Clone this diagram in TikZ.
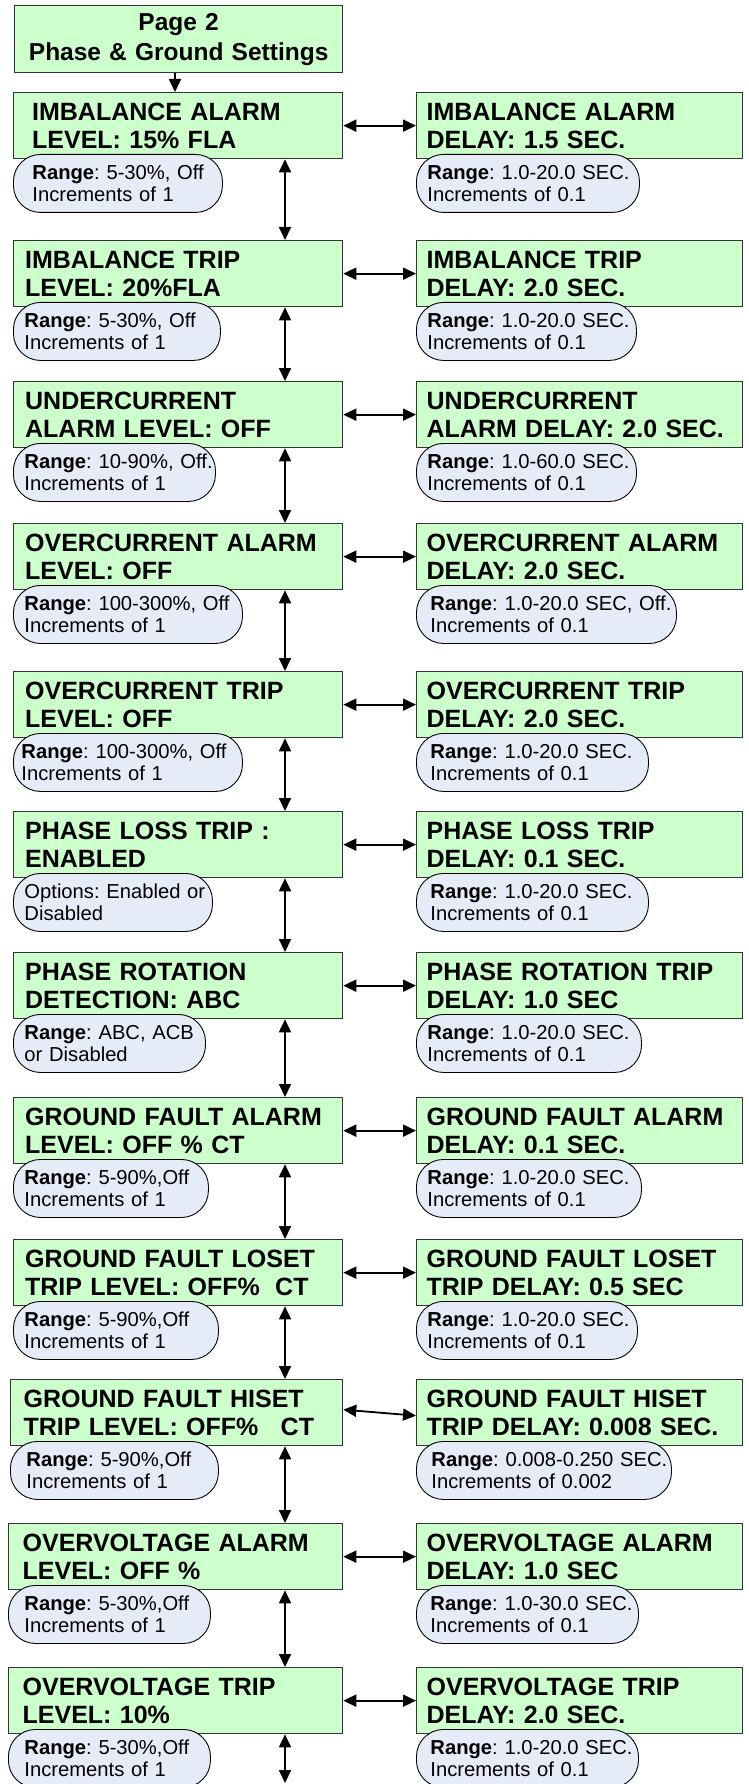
\documentclass[tikz,border=0pt]{standalone}
\usepackage{fontspec}
\setmainfont{Liberation Sans}
\usetikzlibrary{arrows.meta}
\definecolor{boxgreen}{HTML}{CCFFCC}
\definecolor{callblue}{HTML}{E6ECF7}
\definecolor{edgegray}{HTML}{333333}
\newcommand{\oneline}[1]{\mbox{#1}}
\frenchspacing
\begin{document}
\begin{tikzpicture}[x=1pt,y=-1pt,
  setbox/.style={draw=edgegray, line width=1.3pt, fill=boxgreen, rectangle,
    minimum height=66pt, inner ysep=0pt, align=left, anchor=north west,
    font=\fontsize{25}{28.5}\selectfont\bfseries},
  leftbox/.style={setbox, text width=306pt, inner xsep=#1},
  leftbox/.default=11.5pt,
  rightbox/.style={setbox, text width=306pt, inner xsep=10pt},
  titlebox/.style={setbox, text width=308pt, inner xsep=10pt, minimum height=67pt,
    align=center, font=\fontsize{24.5}{30}\selectfont\bfseries},
  callout/.style={draw=black, line width=0.9pt, fill=callblue, rounded corners=27pt,
    minimum height=58pt, inner xsep=0pt, inner ysep=0pt, align=left,
    anchor=north west, text width=#1, font=\fontsize{20.2}{22}\selectfont},
  dbl/.style={line width=1.8pt, {Triangle[length=13pt,width=12pt]}-{Triangle[length=13pt,width=12pt]}},
  sgl/.style={line width=1.8pt, -{Triangle[length=13pt,width=12pt]}}
]
\useasboundingbox (0,0) rectangle (748,1784);
\coordinate (ax) at (285,0);
\coordinate (tx) at (175,0);
\coordinate (bend) at (285,1783);

\node[titlebox] (T) at (14,5) {Page 2\\Phase \& Ground Settings};

% left boxes
\node[leftbox] (L1) at (13,92) {\oneline{\hspace*{7pt}IMBALANCE ALARM}\\\oneline{\hspace*{7pt}LEVEL: 15\% FLA}};
\node[leftbox] (L2) at (13,240) {\oneline{IMBALANCE TRIP}\\\oneline{LEVEL: 20\%FLA}};
\node[leftbox] (L3) at (13,381) {\oneline{UNDERCURRENT}\\\oneline{ALARM LEVEL: OFF}};
\node[leftbox] (L4) at (13,523) {\oneline{OVERCURRENT ALARM}\\\oneline{LEVEL: OFF}};
\node[leftbox] (L5) at (13,671) {\oneline{OVERCURRENT TRIP}\\\oneline{LEVEL: OFF}};
\node[leftbox] (L6) at (13,811) {\oneline{PHASE LOSS TRIP :}\\\oneline{ENABLED}};
\node[leftbox] (L7) at (13,952) {\oneline{PHASE ROTATION}\\\oneline{DETECTION: ABC}};
\node[leftbox] (L8) at (13,1097) {\oneline{GROUND FAULT ALARM}\\\oneline{LEVEL: OFF \% CT}};
\node[leftbox] (L9) at (13,1239) {\oneline{GROUND FAULT LOSET}\\\oneline{TRIP LEVEL: OFF\%\hspace{7pt} CT}};
\node[leftbox=13pt] (L10) at (10,1379) {\oneline{GROUND FAULT HISET}\\\oneline{TRIP LEVEL: OFF\%\hspace{14pt} CT}};
\node[leftbox=14pt] (L11) at (8,1523) {\oneline{OVERVOLTAGE ALARM}\\\oneline{LEVEL: OFF \%}};
\node[leftbox=14pt] (L12) at (8,1667) {\oneline{OVERVOLTAGE TRIP}\\\oneline{LEVEL: 10\%}};

% right boxes
\node[rightbox] (R1) at (416,92) {\oneline{IMBALANCE ALARM}\\\oneline{DELAY: 1.5 SEC.}};
\node[rightbox] (R2) at (416,240) {\oneline{IMBALANCE TRIP}\\\oneline{DELAY: 2.0 SEC.}};
\node[rightbox] (R3) at (416,381) {\oneline{UNDERCURRENT}\\\oneline{ALARM DELAY: 2.0 SEC.}};
\node[rightbox] (R4) at (416,523) {\oneline{OVERCURRENT ALARM}\\\oneline{DELAY: 2.0 SEC.}};
\node[rightbox] (R5) at (416,671) {\oneline{OVERCURRENT TRIP}\\\oneline{DELAY: 2.0 SEC.}};
\node[rightbox] (R6) at (416,811) {\oneline{PHASE LOSS TRIP}\\\oneline{DELAY: 0.1 SEC.}};
\node[rightbox] (R7) at (416,952) {\oneline{PHASE ROTATION TRIP}\\\oneline{DELAY: 1.0 SEC}};
\node[rightbox] (R8) at (416,1097) {\oneline{GROUND FAULT ALARM}\\\oneline{DELAY: 0.1 SEC.}};
\node[rightbox] (R9) at (416,1239) {\oneline{GROUND FAULT LOSET}\\\oneline{TRIP DELAY: 0.5 SEC}};
\node[rightbox] (R10) at (416,1379) {\oneline{GROUND FAULT HISET}\\\oneline{TRIP DELAY: 0.008 SEC.}};
\node[rightbox] (R11) at (416,1523) {\oneline{OVERVOLTAGE ALARM}\\\oneline{DELAY: 1.0 SEC}};
\node[rightbox] (R12) at (416,1667) {\oneline{OVERVOLTAGE TRIP}\\\oneline{DELAY: 2.0 SEC.}};

% left callouts
\node[callout=209pt] (cL1) at (13,154) {\oneline{\hspace*{19pt}\textbf{Range}: 5-30\%, Off}\\\oneline{\hspace*{19pt}Increments of 1}};
\node[callout=207pt] (cL2) at (13,302) {\oneline{\hspace*{11pt}\textbf{Range}: 5-30\%, Off}\\\oneline{\hspace*{11pt}Increments of 1}};
\node[callout=202pt] (cL3) at (13,443) {\oneline{\hspace*{11pt}\textbf{Range}: 10-90\%, Off.}\\\oneline{\hspace*{11pt}Increments of 1}};
\node[callout=229pt] (cL4) at (13,585) {\oneline{\hspace*{11pt}\textbf{Range}: 100-300\%, Off}\\\oneline{\hspace*{11pt}Increments of 1}};
\node[callout=229pt] (cL5) at (13,733) {\oneline{\hspace*{8pt}\textbf{Range}: 100-300\%, Off}\\\oneline{\hspace*{8pt}Increments of 1}};
\node[callout=199pt] (cL6) at (13,873) {\oneline{\hspace*{11pt}Options: Enabled or}\\\oneline{\hspace*{11pt}Disabled}};
\node[callout=192pt] (cL7) at (13,1014) {\oneline{\hspace*{11pt}\textbf{Range}: ABC, ACB}\\\oneline{\hspace*{11pt}or Disabled}};
\node[callout=195pt] (cL8) at (13,1159) {\oneline{\hspace*{11pt}\textbf{Range}: 5-90\%,Off}\\\oneline{\hspace*{11pt}Increments of 1}};
\node[callout=205pt] (cL9) at (13,1301) {\oneline{\hspace*{11pt}\textbf{Range}: 5-90\%,Off}\\\oneline{\hspace*{11pt}Increments of 1}};
\node[callout=208pt] (cL10) at (10,1441) {\oneline{\hspace*{16pt}\textbf{Range}: 5-90\%,Off}\\\oneline{\hspace*{16pt}Increments of 1}};
\node[callout=202pt] (cL11) at (8,1585) {\oneline{\hspace*{16pt}\textbf{Range}: 5-30\%,Off}\\\oneline{\hspace*{16pt}Increments of 1}};
\node[callout=202pt] (cL12) at (8,1729) {\oneline{\hspace*{16pt}\textbf{Range}: 5-30\%,Off}\\\oneline{\hspace*{16pt}Increments of 1}};

% right callouts
\node[callout=223pt] (cR1) at (416,154) {\oneline{\hspace*{11pt}\textbf{Range}: 1.0-20.0 SEC.}\\\oneline{\hspace*{11pt}Increments of 0.1}};
\node[callout=220pt] (cR2) at (416,302) {\oneline{\hspace*{11pt}\textbf{Range}: 1.0-20.0 SEC.}\\\oneline{\hspace*{11pt}Increments of 0.1}};
\node[callout=220pt] (cR3) at (416,443) {\oneline{\hspace*{11pt}\textbf{Range}: 1.0-60.0 SEC.}\\\oneline{\hspace*{11pt}Increments of 0.1}};
\node[callout=260pt] (cR4) at (416,585) {\oneline{\hspace*{14pt}\textbf{Range}: 1.0-20.0 SEC, Off.}\\\oneline{\hspace*{14pt}Increments of 0.1}};
\node[callout=232pt] (cR5) at (416,733) {\oneline{\hspace*{14pt}\textbf{Range}: 1.0-20.0 SEC.}\\\oneline{\hspace*{14pt}Increments of 0.1}};
\node[callout=232pt] (cR6) at (416,873) {\oneline{\hspace*{14pt}\textbf{Range}: 1.0-20.0 SEC.}\\\oneline{\hspace*{14pt}Increments of 0.1}};
\node[callout=225pt] (cR7) at (416,1014) {\oneline{\hspace*{11pt}\textbf{Range}: 1.0-20.0 SEC.}\\\oneline{\hspace*{11pt}Increments of 0.1}};
\node[callout=225pt] (cR8) at (416,1159) {\oneline{\hspace*{11pt}\textbf{Range}: 1.0-20.0 SEC.}\\\oneline{\hspace*{11pt}Increments of 0.1}};
\node[callout=221pt] (cR9) at (416,1301) {\oneline{\hspace*{11pt}\textbf{Range}: 1.0-20.0 SEC.}\\\oneline{\hspace*{11pt}Increments of 0.1}};
\node[callout=255pt] (cR10) at (416,1441) {\oneline{\hspace*{15pt}\textbf{Range}: 0.008-0.250 SEC.}\\\oneline{\hspace*{15pt}Increments of 0.002}};
\node[callout=222pt] (cR11) at (416,1585) {\oneline{\hspace*{14pt}\textbf{Range}: 1.0-30.0 SEC.}\\\oneline{\hspace*{14pt}Increments of 0.1}};
\node[callout=222pt] (cR12) at (416,1729) {\oneline{\hspace*{14pt}\textbf{Range}: 1.0-20.0 SEC.}\\\oneline{\hspace*{14pt}Increments of 0.1}};

% arrows
\draw[sgl] (T.south -| tx) -- (L1.north -| tx);
\foreach \a/\b in {L1/L2,L2/L3,L3/L4,L4/L5,L5/L6,L6/L7,L7/L8,L8/L9,L9/L10,L10/L11,L11/L12}
  \draw[dbl] (\a.south -| ax) -- (\b.north -| ax);
\draw[dbl] (L12.south -| ax) -- (bend);
\foreach \i in {1,...,9,11,12}
  \draw[dbl] (L\i.east) -- (R\i.west);
\draw[dbl] ([yshift=3pt]L10.east) -- ([yshift=-3pt]R10.west);
\end{tikzpicture}
\end{document}
